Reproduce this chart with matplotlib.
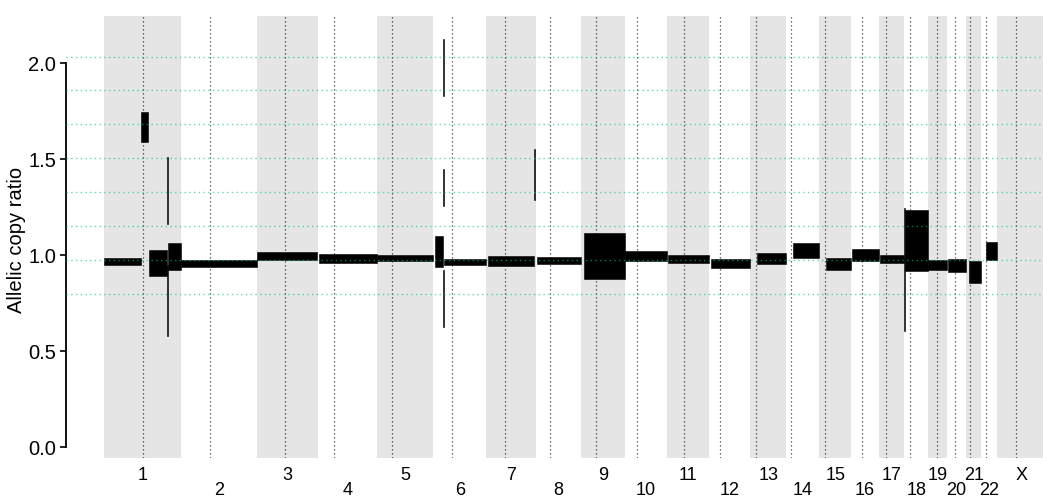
import numpy as np
import matplotlib.pyplot as plt
from matplotlib.transforms import blended_transform_factory

plt.rcParams['font.family'] = ['Liberation Sans', 'DejaVu Sans']

# chromosome layout (hg19, Mb)
chrom_names = [str(i) for i in range(1, 23)] + ['X']
chrom_len = [249.25, 243.20, 198.02, 191.15, 180.92, 171.12, 159.14, 146.36,
             141.21, 135.53, 135.01, 133.85, 115.17, 107.35, 102.53, 90.35,
             81.20, 78.08, 59.13, 63.03, 48.13, 51.30, 155.27]
centromere = [125.0, 93.3, 91.0, 50.4, 48.4, 61.0, 59.9, 45.6, 49.0, 40.2,
              53.7, 35.8, 17.9, 17.6, 19.0, 36.6, 24.0, 17.2, 26.5, 27.5,
              13.2, 14.7, 60.6]

# expected allelic copy ratio levels
levels = [0.801, 0.977, 1.152, 1.329, 1.506, 1.683, 1.860, 2.035]

# segments: chromosome, start, end (Mb), low, high
seg_chrom = ['1', '1', '1', '1', '1', '1',
             '2', '3', '4', '5',
             '6', '6', '6', '6', '6',
             '7', '7', '8', '9', '10', '11', '12', '13', '14', '15', '16', '17',
             '18', '18', '19', '20', '21', '22']
seg_start = [0.0, 119.4, 145.2, 202.0, 202.0, 206.5,
             0.0, 0.0, 3.0, 0.0,
             5.2, 30.5, 30.5, 30.5, 34.0,
             5.0, 153.5, 4.0, 10.0, 0.5, 2.0, 6.0, 21.0, 22.0, 22.0, 3.0, 3.0,
             0.0, 3.0, 0.0, 4.0, 9.5, 16.0]
seg_end = [119.4, 141.9, 203.2, 205.5, 205.5, 249.2,
           243.2, 195.5, 191.1, 180.5,
           31.0, 33.5, 33.5, 33.5, 171.1,
           153.5, 157.5, 146.3, 141.2, 135.5, 135.0, 133.8, 115.1, 107.3, 102.5, 90.3, 81.2,
           3.0, 78.0, 59.1, 63.0, 48.1, 51.3]
seg_low = [0.949, 1.591, 0.893, 1.164, 0.581, 0.924,
           0.942, 0.978, 0.963, 0.969,
           0.940, 1.831, 1.258, 0.629, 0.951,
           0.945, 1.289, 0.956, 0.878, 0.971, 0.961, 0.935, 0.957, 0.987, 0.924, 0.971, 0.961,
           0.607, 0.919, 0.924, 0.914, 0.857, 0.977]
seg_high = [0.987, 1.747, 1.029, 1.513, 0.950, 1.065,
            0.975, 1.018, 1.008, 1.003,
            1.102, 2.128, 1.451, 0.924, 0.982,
            0.997, 1.555, 0.992, 1.117, 1.023, 1.003, 0.982, 1.013, 1.065, 0.987, 1.034, 1.003,
            1.247, 1.237, 0.977, 0.982, 0.971, 1.070]

offsets = np.concatenate([[0], np.cumsum(chrom_len)[:-1]])
chrom_off = dict(zip(chrom_names, offsets))

fig = plt.figure(figsize=(10.43, 4.99), dpi=100)
ax = fig.add_axes([66 / 1043, 41 / 499, 977 / 1043, 442 / 499])

# alternating chromosome bands and centromere lines
for i, name in enumerate(chrom_names):
    if i % 2 == 0:
        ax.axvspan(offsets[i], offsets[i] + chrom_len[i], color='#e5e5e5', lw=0, zorder=0)
    ax.axvline(offsets[i] + centromere[i], color='black', ls=(0, (1, 2.2)),
               lw=0.9, alpha=0.75, zorder=1)

x0 = np.array([chrom_off[c] for c in seg_chrom]) + np.array(seg_start)
w = np.array(seg_end) - np.array(seg_start)
lo = np.array(seg_low)
hi = np.array(seg_high)
ax.bar(x0, hi - lo, width=w, bottom=lo, align='edge', color='black',
       edgecolor='black', linewidth=0.4, zorder=2)

for y in levels:
    ax.axhline(y, color='#00cc6e', alpha=0.65, ls=(0, (1, 2.4)), lw=1.0, zorder=3)

ax.set_xlim(-122.6, 3029)
ax.set_ylim(-0.0547, 2.247)

for s in ['top', 'right', 'bottom']:
    ax.spines[s].set_visible(False)
ax.spines['left'].set_bounds(0, 2)
ax.spines['left'].set_linewidth(1.3)

ax.set_xticks([])
ax.set_yticks([0, 0.5, 1.0, 1.5, 2.0])
ax.set_yticklabels(['0.0', '0.5', '1.0', '1.5', '2.0'])
ax.tick_params(axis='y', labelsize=14.5, length=4.5, width=1.2, pad=2.5, colors='black')

fig.text(17 / 1043, 1 - 240 / 499, 'Allelic copy ratio', rotation=90,
         ha='center', va='center', fontsize=14.5)

trans = blended_transform_factory(ax.transData, ax.transAxes)
for i, name in enumerate(chrom_names):
    yy = -0.0407 if i % 2 == 0 else -0.0724
    ax.text(offsets[i] + chrom_len[i] / 2, yy, name, transform=trans,
            ha='center', va='center', fontsize=13, clip_on=False)

fig.savefig('out.png', dpi=100)
